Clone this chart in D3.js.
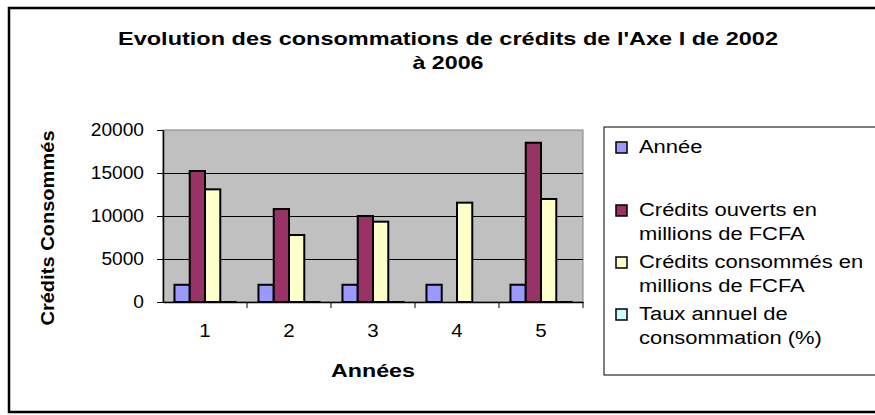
<!DOCTYPE html>
<html>
<head>
<meta charset="utf-8">
<script src="https://cdnjs.cloudflare.com/ajax/libs/d3/7.8.5/d3.min.js"></script>
<style>
  body { margin: 0; background: #fff; }
  svg { display: block; font-family: "Liberation Sans", Arial, sans-serif; }
</style>
</head>
<body>
<svg id="svg1" width="875" height="415"></svg>
<script>
// data
var categories = ["1", "2", "3", "4", "5"];
var annee = [2002, 2003, 2004, 2005, 2006];
var creditsOuverts = [15230, 10810, 10000, null, 18520];
var creditsConsommes = [13100, 7790, 9340, 11550, 11980];
var tauxAnnuel = [0.86, 0.72, 0.93, null, 0.65];
var yTicks = [0, 5000, 10000, 15000, 20000];

var seriesNames = ["Année", "Crédits ouverts en millions de FCFA",
                   "Crédits consommés en millions de FCFA", "Taux annuel de consommation (%)"];
var legendLines = [["Année"], ["Crédits ouverts en", "millions de FCFA"],
                   ["Crédits consommés en", "millions de FCFA"], ["Taux annuel de", "consommation (%)"]];
var seriesValues = [annee, creditsOuverts, creditsConsommes, tauxAnnuel];

var color = d3.scaleOrdinal()
              .domain(seriesNames)
              .range(["#9999ff", "#993366", "#ffffcc", "#ccffff"]);

var svg = d3.select('svg');

var plot = {left: 163, right: 583, top: 130, bottom: 302};
var fontSize = 18.6;

// widen a text around its own anchor (excel text comes out wider than Arial)
function stretch(sel, k) {
  sel.each(function() {
    var t = d3.select(this);
    var ax = t.attr('x');
    if (ax == null) {
      var ts = t.select('tspan');
      ax = ts.empty() ? 0 : ts.attr('x');
    }
    ax = +ax || 0;
    var prev = t.attr('transform') || '';
    t.attr('transform', prev + ' translate(' + ax + ',0) scale(' + k + ',1) translate(' + (-ax) + ',0)');
  });
}

// outer chart frame (right side runs off the picture)
svg.append('rect')
   .attr('x', 9).attr('y', 8)
   .attr('width', 900).attr('height', 404)
   .attr('fill', '#fff')
   .attr('stroke', '#000')
   .attr('stroke-width', 2.5);

var x0 = d3.scaleBand()
           .domain(categories)
           .range([plot.left, plot.right])
           .padding(0);

// excel style gap width of 150%
var gap = 1.5;
var barW = x0.bandwidth() / (seriesNames.length + gap);
var x1 = d3.scaleBand()
           .domain(seriesNames)
           .range([barW * gap / 2, barW * gap / 2 + barW * seriesNames.length])
           .padding(0);

var y = d3.scaleLinear()
          .domain([0, 20000])
          .range([plot.bottom, plot.top]);

// plot area
svg.append('rect')
   .attr('x', plot.left).attr('y', plot.top)
   .attr('width', plot.right - plot.left)
   .attr('height', plot.bottom - plot.top)
   .attr('fill', '#c0c0c0')
   .attr('stroke', '#808080')
   .attr('stroke-width', 1);

svg.append('g')
   .selectAll('line')
   .data(yTicks.filter(function(d) { return d > 0 && d < 20000; }))
   .enter()
   .append('line')
   .attr('x1', plot.left).attr('x2', plot.right)
   .attr('y1', function(d) { return Math.round(y(d)) + 0.5; })
   .attr('y2', function(d) { return Math.round(y(d)) + 0.5; })
   .attr('stroke', '#000')
   .attr('stroke-width', 1);

// bars
var rows = categories.map(function(c, i) {
  return {cat: c, vals: seriesNames.map(function(s, j) { return {name: s, v: seriesValues[j][i]}; })};
});

var groups = svg.append('g')
                .selectAll('g')
                .data(rows)
                .enter()
                .append('g')
                .attr('transform', function(d) { return 'translate(' + x0(d.cat) + ',0)'; });

groups.selectAll('rect')
      .data(function(d) { return d.vals.filter(function(b) { return b.v != null; }); })
      .enter()
      .append('rect')
      .attr('x', function(d) { return x1(d.name); })
      .attr('y', function(d) { return y(d.v); })
      .attr('width', x1.bandwidth())
      .attr('height', function(d) { return y(0) - y(d.v); })
      .attr('fill', function(d) { return color(d.name); })
      .attr('stroke', '#000')
      .attr('stroke-width', 2);

// axes
var yAxis = d3.axisLeft(y).tickValues(yTicks).tickFormat(d3.format('d'))
              .tickSize(6).tickSizeOuter(0).tickPadding(13);
var gy = svg.append('g')
            .attr('transform', 'translate(' + plot.left + ',0)')
            .call(yAxis);

var xAxis = d3.axisBottom(x0).tickSize(0).tickSizeOuter(0).tickPadding(22);
var gx = svg.append('g')
            .attr('transform', 'translate(0,' + plot.bottom + ')')
            .call(xAxis);

// tick marks between categories, excel style
gx.selectAll('.sep')
  .data(categories.slice(1).concat(['end']))
  .enter()
  .append('line')
  .attr('class', 'sep')
  .attr('x1', function(d) { return d == 'end' ? plot.right : x0(d); })
  .attr('x2', function(d) { return d == 'end' ? plot.right : x0(d); })
  .attr('y1', 0).attr('y2', 6)
  .attr('stroke', '#000');

svg.selectAll('.domain').attr('stroke', '#000').attr('stroke-width', 1.5);
svg.selectAll('.tick line').attr('stroke', '#000');
svg.selectAll('.tick text')
   .attr('font-size', fontSize)
   .attr('font-family', '"Liberation Sans", Arial, sans-serif')
   .attr('fill', '#000');
stretch(gy.selectAll('.tick text'), 1.03);
stretch(gx.selectAll('.tick text'), 1.1);

// titles
var title1 = svg.append('text')
                .attr('x', 448).attr('y', 45)
                .attr('text-anchor', 'middle')
                .attr('font-weight', 'bold')
                .attr('font-size', fontSize)
                .attr('textLength', 660)
                .attr('lengthAdjust', 'spacingAndGlyphs')
                .text("Evolution des consommations de crédits de l'Axe I de 2002");
var title2 = svg.append('text')
                .attr('x', 448).attr('y', 69)
                .attr('text-anchor', 'middle')
                .attr('font-weight', 'bold')
                .attr('font-size', fontSize)
                .text('à 2006');
stretch(title2, 1.25);

var xTitle = svg.append('text')
                .attr('x', (plot.left + plot.right) / 2)
                .attr('y', 377)
                .attr('text-anchor', 'middle')
                .attr('font-weight', 'bold')
                .attr('font-size', fontSize)
                .text('Années');
stretch(xTitle, 1.25);

svg.append('text')
   .attr('transform', 'translate(54,228) rotate(-90) scale(1.08,1)')
   .attr('text-anchor', 'middle')
   .attr('font-weight', 'bold')
   .attr('font-size', fontSize)
   .text('Crédits Consommés');

// legend
var legend = svg.append('g').attr('transform', 'translate(604,127)');
legend.append('rect')
      .attr('x', 0).attr('y', 0)
      .attr('width', 300).attr('height', 248)
      .attr('fill', '#fff')
      .attr('stroke', '#000')
      .attr('stroke-width', 1);

var itemY = [26, 89, 141, 193];
var item = legend.selectAll('.item')
                 .data(seriesNames)
                 .enter()
                 .append('g')
                 .attr('class', 'item')
                 .attr('transform', function(d, i) { return 'translate(0,' + itemY[i] + ')'; });

item.append('rect')
    .attr('x', 12).attr('y', -11)
    .attr('width', 11).attr('height', 11)
    .attr('fill', function(d) { return color(d); })
    .attr('stroke', '#000')
    .attr('stroke-width', 1.5);

var legendText = item.append('text')
                     .attr('font-size', fontSize)
                     .attr('fill', '#000');
legendText.selectAll('tspan')
          .data(function(d, i) { return legendLines[i]; })
          .enter()
          .append('tspan')
          .attr('x', 35)
          .attr('y', function(d, k) { return k * 24.5; })
          .text(function(d) { return d; });
stretch(legendText, 1.18);
</script>
</body>
</html>
